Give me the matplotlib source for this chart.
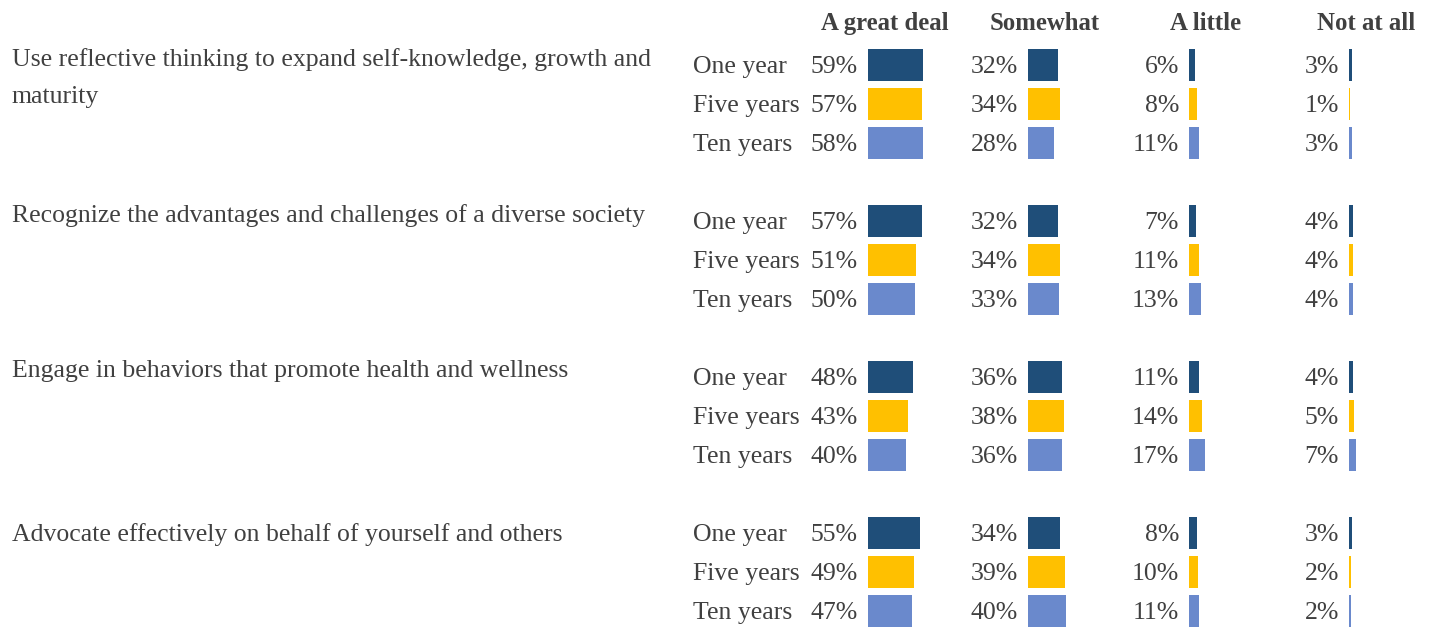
import matplotlib.pyplot as plt

# Data
items = [
    'Use reflective thinking to expand self-knowledge, growth and\nmaturity',
    'Recognize the advantages and challenges of a diverse society',
    'Engage in behaviors that promote health and wellness',
    'Advocate effectively on behalf of yourself and others',
]
periods = ['One year', 'Five years', 'Ten years']
categories = ['A great deal', 'Somewhat', 'A little', 'Not at all']

# values[item][period] for each response
great_deal = [[59, 57, 58], [57, 51, 50], [48, 43, 40], [55, 49, 47]]
somewhat = [[32, 34, 28], [32, 34, 33], [36, 38, 36], [34, 39, 40]]
a_little = [[6, 8, 11], [7, 11, 13], [11, 14, 17], [8, 10, 11]]
not_at_all = [[3, 1, 3], [4, 4, 4], [4, 5, 7], [3, 2, 2]]

colors = ['#1F4E79', '#FFC000', '#6A89CC']
text_color = '#404040'

plt.rcParams['font.family'] = ['Liberation Serif', 'DejaVu Serif']

W, H = 1429, 627
fig = plt.figure(figsize=(W / 100, H / 100), dpi=100)

row_px = 39.0        # vertical pixels per row unit
first_row_px = 65.0  # centre of first row from top
px_per_pct = 0.94
ylim = ((H - first_row_px) / row_px, -first_row_px / row_px)
base_off = 8 / row_px   # baseline sits a bit below the bar centre
item_shift = [-7, -7, -8, 0]  # px, item label vs. first row baseline

col_left = [868, 1028, 1189, 1349]
col_w = 78
fs = 18.5

# base axes for left-hand labels (x in pixels)
base = fig.add_axes([0, 0, 1, 1])
base.set_xlim(0, W)
base.set_ylim(*ylim)
base.axis('off')

for g, item in enumerate(items):
    y0 = g * 4
    for k, line in enumerate(item.split('\n')):
        yy = y0 + base_off + (item_shift[g] + k * 37) / row_px
        base.text(12, yy, line, ha='left', va='baseline', fontsize=fs,
                  color=text_color)
    for r, p in enumerate(periods):
        base.text(693, y0 + r + base_off, p, ha='left', va='baseline',
                  fontsize=fs, color=text_color)

series = [great_deal, somewhat, a_little, not_at_all]
for c, (cat, vals) in enumerate(zip(categories, series)):
    ax = fig.add_axes([col_left[c] / W, 0, col_w / W, 1])
    ax.set_xlim(0, col_w / px_per_pct)
    ax.set_ylim(*ylim)
    ax.axis('off')
    ax.text(17 / px_per_pct, -1.1 + base_off, cat, ha='center',
            va='baseline', fontsize=17.8, fontweight='bold',
            color=text_color)
    for g in range(len(items)):
        for r in range(len(periods)):
            y = g * 4 + r
            v = vals[g][r]
            ax.barh(y, v, height=0.82, color=colors[r], linewidth=0)
            ax.text(-10 / px_per_pct, y + base_off, f'{v}%', ha='right',
                    va='baseline', fontsize=fs, color=text_color,
                    clip_on=False)

fig.savefig('out.png', dpi=100)
